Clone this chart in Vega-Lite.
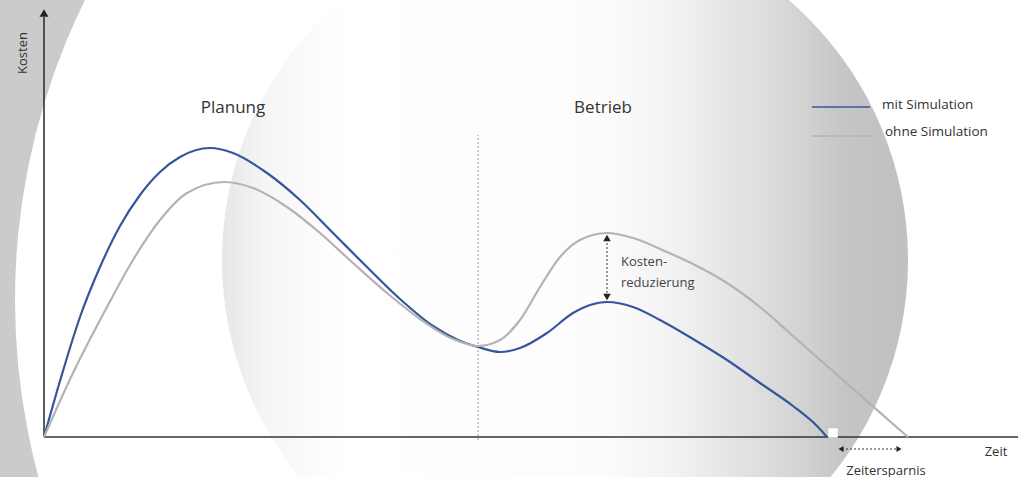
{
  "$schema": "https://vega.github.io/schema/vega-lite/v6.json",
  "width": 1018,
  "height": 477,
  "autosize": {"type": "none"},
  "padding": 0,
  "background": "#cbcbcb",
  "config": {"view": {"stroke": null}, "font": "Open Sans"},
  "datasets": {
    "curves": [
      {"t": 0, "k": 0, "series": "mit Simulation"},
      {"t": 16, "k": 56, "series": "mit Simulation"},
      {"t": 36, "k": 120, "series": "mit Simulation"},
      {"t": 56, "k": 170, "series": "mit Simulation"},
      {"t": 76, "k": 211, "series": "mit Simulation"},
      {"t": 96, "k": 242, "series": "mit Simulation"},
      {"t": 116, "k": 265, "series": "mit Simulation"},
      {"t": 136, "k": 280, "series": "mit Simulation"},
      {"t": 166, "k": 289, "series": "mit Simulation"},
      {"t": 189, "k": 284, "series": "mit Simulation"},
      {"t": 223, "k": 264, "series": "mit Simulation"},
      {"t": 256, "k": 237, "series": "mit Simulation"},
      {"t": 289, "k": 204, "series": "mit Simulation"},
      {"t": 323, "k": 170, "series": "mit Simulation"},
      {"t": 356, "k": 138, "series": "mit Simulation"},
      {"t": 389, "k": 111, "series": "mit Simulation"},
      {"t": 414, "k": 97, "series": "mit Simulation"},
      {"t": 434, "k": 90, "series": "mit Simulation"},
      {"t": 456, "k": 85, "series": "mit Simulation"},
      {"t": 476, "k": 89, "series": "mit Simulation"},
      {"t": 503, "k": 104, "series": "mit Simulation"},
      {"t": 529, "k": 124, "series": "mit Simulation"},
      {"t": 546, "k": 132, "series": "mit Simulation"},
      {"t": 563, "k": 135, "series": "mit Simulation"},
      {"t": 589, "k": 130, "series": "mit Simulation"},
      {"t": 616, "k": 117, "series": "mit Simulation"},
      {"t": 649, "k": 98, "series": "mit Simulation"},
      {"t": 683, "k": 77, "series": "mit Simulation"},
      {"t": 716, "k": 54, "series": "mit Simulation"},
      {"t": 749, "k": 31, "series": "mit Simulation"},
      {"t": 773, "k": 11, "series": "mit Simulation"},
      {"t": 783, "k": 0, "series": "mit Simulation"},
      {"t": 0, "k": 0, "series": "ohne Simulation"},
      {"t": 29, "k": 64, "series": "ohne Simulation"},
      {"t": 63, "k": 130, "series": "ohne Simulation"},
      {"t": 89, "k": 177, "series": "ohne Simulation"},
      {"t": 116, "k": 217, "series": "ohne Simulation"},
      {"t": 143, "k": 244, "series": "ohne Simulation"},
      {"t": 180, "k": 255, "series": "ohne Simulation"},
      {"t": 209, "k": 249, "series": "ohne Simulation"},
      {"t": 243, "k": 230, "series": "ohne Simulation"},
      {"t": 276, "k": 204, "series": "ohne Simulation"},
      {"t": 309, "k": 174, "series": "ohne Simulation"},
      {"t": 343, "k": 144, "series": "ohne Simulation"},
      {"t": 376, "k": 118, "series": "ohne Simulation"},
      {"t": 409, "k": 98, "series": "ohne Simulation"},
      {"t": 434, "k": 91, "series": "ohne Simulation"},
      {"t": 456, "k": 97, "series": "ohne Simulation"},
      {"t": 476, "k": 117, "series": "ohne Simulation"},
      {"t": 496, "k": 150, "series": "ohne Simulation"},
      {"t": 516, "k": 180, "series": "ohne Simulation"},
      {"t": 536, "k": 197, "series": "ohne Simulation"},
      {"t": 563, "k": 204, "series": "ohne Simulation"},
      {"t": 589, "k": 199, "series": "ohne Simulation"},
      {"t": 623, "k": 185, "series": "ohne Simulation"},
      {"t": 649, "k": 173, "series": "ohne Simulation"},
      {"t": 683, "k": 154, "series": "ohne Simulation"},
      {"t": 716, "k": 130, "series": "ohne Simulation"},
      {"t": 749, "k": 101, "series": "ohne Simulation"},
      {"t": 783, "k": 71, "series": "ohne Simulation"},
      {"t": 816, "k": 42, "series": "ohne Simulation"},
      {"t": 849, "k": 13, "series": "ohne Simulation"},
      {"t": 864, "k": 0, "series": "ohne Simulation"}
    ],
    "segments": [
      {"id": "phase", "t": 434, "t2": 434, "k": -3, "k2": 302},
      {"id": "yaxis", "t": 0, "t2": 0, "k": 0, "k2": 420},
      {"id": "xaxis", "t": 0, "t2": 974, "k": 0, "k2": 0},
      {"id": "legend_mit", "t": 768, "t2": 826, "k": 330, "k2": 330},
      {"id": "legend_ohne", "t": 768, "t2": 826, "k": 301, "k2": 301},
      {"id": "reduktion", "t": 563, "t2": 563, "k": 140, "k2": 198},
      {"id": "ersparnis", "t": 798, "t2": 854, "k": -12, "k2": -12}
    ],
    "heads": [
      {"id": "yaxis", "t": 0, "k": 424, "dir": "up"},
      {"id": "reduktion", "t": 563, "k": 199, "dir": "up"},
      {"id": "reduktion", "t": 563, "k": 140, "dir": "down"},
      {"id": "ersparnis", "t": 797, "k": -12, "dir": "left"},
      {"id": "ersparnis", "t": 855, "k": -12, "dir": "right"}
    ],
    "labels": [
      {"grp": "phase", "label": "Planung", "t": 189, "k": 329},
      {"grp": "phase", "label": "Betrieb", "t": 559, "k": 329},
      {"grp": "legend", "label": "mit Simulation", "t": 838, "k": 332},
      {"grp": "legend", "label": "ohne Simulation", "t": 841, "k": 305},
      {"grp": "note", "label": "Kosten-", "t": 577, "k": 175},
      {"grp": "note", "label": "reduzierung", "t": 577, "k": 154},
      {"grp": "xtitle", "label": "Zeit", "t": 952, "k": -15},
      {"grp": "saving", "label": "Zeitersparnis", "t": 842, "k": -34},
      {"grp": "ytitle", "label": "Kosten", "t": -21, "k": 384}
    ],
    "discs": [
      {"id": "white", "t": 649, "k": 137},
      {"id": "shade", "t": 521, "k": 177},
      {"id": "square", "t": 789, "k": 4}
    ]
  },
  "encoding": {
    "x": {"field": "t", "type": "quantitative", "scale": {"domain": [-44, 974], "nice": false, "zero": false}, "axis": null},
    "y": {"field": "k", "type": "quantitative", "scale": {"domain": [-40, 437], "nice": false, "zero": false}, "axis": null}
  },
  "layer": [
    {
      "data": {"name": "discs"},
      "transform": [{"filter": "datum.id === 'white'"}],
      "mark": {"type": "point", "shape": "circle", "filled": true, "fill": "#ffffff", "opacity": 1, "strokeWidth": 0, "size": 1838736}
    },
    {
      "data": {"name": "discs"},
      "transform": [{"filter": "datum.id === 'shade'"}],
      "mark": {
        "type": "point", "shape": "circle", "filled": true, "opacity": 1, "strokeWidth": 0, "size": 470596,
        "fill": {
          "gradient": "linear", "x1": 0, "y1": 0.5, "x2": 1, "y2": 0.5,
          "stops": [
            {"offset": 0, "color": "#e6e6e6"},
            {"offset": 0.06, "color": "#f5f5f5"},
            {"offset": 0.18, "color": "#ffffff"},
            {"offset": 0.55, "color": "#fcfcfc"},
            {"offset": 0.66, "color": "#f2f2f2"},
            {"offset": 0.76, "color": "#e2e2e2"},
            {"offset": 0.85, "color": "#d2d2d2"},
            {"offset": 0.9, "color": "#c6c6c6"},
            {"offset": 1, "color": "#c0c0c0"}
          ]
        }
      }
    },
    {
      "data": {"name": "segments"},
      "transform": [{"filter": "datum.id === 'phase'"}],
      "mark": {"type": "rule", "color": "#9a9a9a", "strokeWidth": 1, "strokeDash": [2, 2]},
      "encoding": {"x2": {"field": "t2"}, "y2": {"field": "k2"}}
    },
    {
      "data": {"name": "segments"},
      "transform": [{"filter": "datum.id === 'xaxis' || datum.id === 'yaxis'"}],
      "mark": {"type": "rule", "color": "#333333", "strokeWidth": 1.6},
      "encoding": {"x2": {"field": "t2"}, "y2": {"field": "k2"}}
    },
    {
      "data": {"name": "curves"},
      "mark": {"type": "line", "interpolate": "monotone", "strokeWidth": 2.2},
      "encoding": {
        "color": {"field": "series", "type": "nominal", "scale": {"domain": ["mit Simulation", "ohne Simulation"], "range": ["#36569b", "#b3b3b3"]}, "legend": null},
        "order": {"field": "t", "type": "quantitative"}
      }
    },
    {
      "data": {"name": "segments"},
      "transform": [{"filter": "datum.id === 'legend_mit' || datum.id === 'legend_ohne'"}],
      "mark": {"type": "rule", "strokeWidth": 1.6},
      "encoding": {
        "x2": {"field": "t2"}, "y2": {"field": "k2"},
        "color": {"field": "id", "type": "nominal", "scale": {"domain": ["legend_mit", "legend_ohne"], "range": ["#3c5286", "#b8b8b8"]}, "legend": null}
      }
    },
    {
      "data": {"name": "segments"},
      "transform": [{"filter": "datum.id === 'reduktion' || datum.id === 'ersparnis'"}],
      "mark": {"type": "rule", "color": "#333333", "strokeWidth": 1, "strokeDash": [2, 2]},
      "encoding": {"x2": {"field": "t2"}, "y2": {"field": "k2"}}
    },
    {
      "data": {"name": "heads"},
      "mark": {"type": "point", "filled": true, "opacity": 1, "color": "#222222", "strokeWidth": 0},
      "encoding": {
        "shape": {"field": "dir", "type": "nominal", "scale": {"domain": ["up", "down", "left", "right"], "range": ["triangle-up", "triangle-down", "triangle-left", "triangle-right"]}, "legend": null},
        "size": {"field": "id", "type": "nominal", "scale": {"domain": ["yaxis", "reduktion", "ersparnis"], "range": [80, 35, 35]}, "legend": null}
      }
    },
    {
      "data": {"name": "discs"},
      "transform": [{"filter": "datum.id === 'square'"}],
      "mark": {"type": "point", "shape": "square", "filled": true, "fill": "#ffffff", "opacity": 1, "strokeWidth": 0, "size": 90}
    },
    {
      "data": {"name": "labels"},
      "transform": [{"filter": "datum.grp === 'phase'"}],
      "mark": {"type": "text", "fontSize": 17, "color": "#333333", "align": "center", "baseline": "middle"},
      "encoding": {"text": {"field": "label"}}
    },
    {
      "data": {"name": "labels"},
      "transform": [{"filter": "datum.grp === 'legend'"}],
      "mark": {"type": "text", "fontSize": 13.5, "color": "#333333", "align": "left", "baseline": "middle"},
      "encoding": {"text": {"field": "label"}}
    },
    {
      "data": {"name": "labels"},
      "transform": [{"filter": "datum.grp === 'note'"}],
      "mark": {"type": "text", "fontSize": 13, "color": "#444444", "align": "left", "baseline": "middle"},
      "encoding": {"text": {"field": "label"}}
    },
    {
      "data": {"name": "labels"},
      "transform": [{"filter": "datum.grp === 'xtitle' || datum.grp === 'saving'"}],
      "mark": {"type": "text", "fontSize": 13, "color": "#333333", "align": "center", "baseline": "middle"},
      "encoding": {"text": {"field": "label"}}
    },
    {
      "data": {"name": "labels"},
      "transform": [{"filter": "datum.grp === 'ytitle'"}],
      "mark": {"type": "text", "fontSize": 13, "color": "#333333", "align": "center", "baseline": "middle", "angle": 270},
      "encoding": {"text": {"field": "label"}}
    }
  ]
}
